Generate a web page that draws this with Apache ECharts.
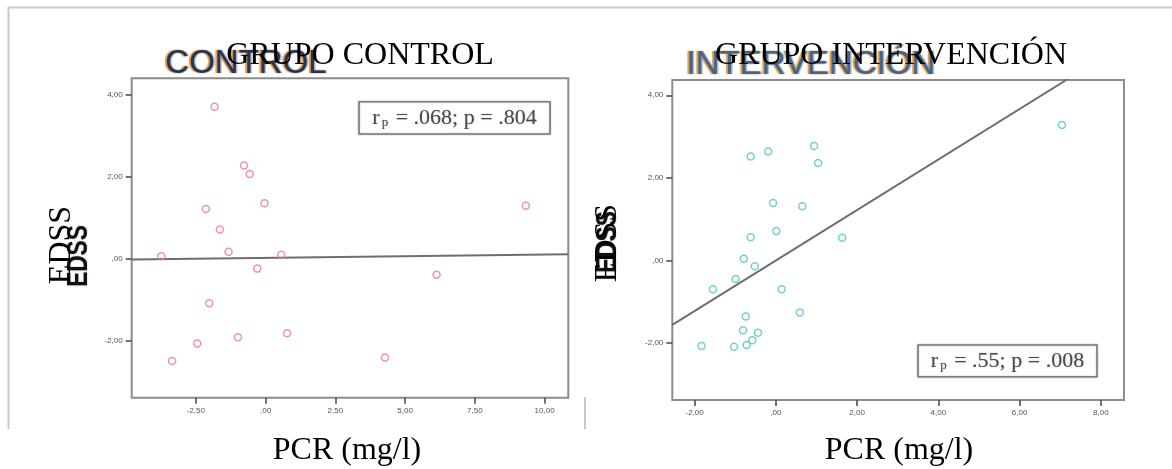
<!DOCTYPE html>
<html>
<head>
<meta charset="utf-8">
<script src="https://cdn.jsdelivr.net/npm/echarts@6/dist/echarts.min.js"></script>
<style>
html,body{margin:0;padding:0;background:#fff;}
#chart{width:1172px;height:469px;}
</style>
</head>
<body>
<div id="chart"></div>
<script>
// ---- data ----
const controlTitle = 'GRUPO CONTROL';
const interTitle = 'GRUPO INTERVENCIÓN';
const xAxisName = 'PCR (mg/l)';
const yAxisName = 'EDSS';

const ctrlX = [-1.83,-0.77,-0.57,-0.04,-2.14,-1.64,-1.33,-3.74,0.56,-0.30,-2.02,-0.99,0.77,-2.45,-3.35,4.28,6.13,9.33];
const ctrlY = [3.70,2.27,2.06,1.35,1.21,0.71,0.17,0.06,0.10,-0.24,-1.08,-1.91,-1.81,-2.06,-2.49,-2.40,-0.39,1.29];
const ctrlFitX = [-4.80, 10.85];
const ctrlFitY = [-0.02, 0.11];
const ctrlXTicks = [-2.5, 0, 2.5, 5, 7.5, 10];
const ctrlYTicks = [-2, 0, 2, 4];
const ctrlStat = ['r', 'p', ' = .068; p = .804'];

const intX = [7.04,0.94,-0.19,-0.62,1.04,-0.07,0.65,0.01,-0.62,1.63,-0.79,-0.52,-0.99,-1.55,0.14,0.59,-0.74,-0.81,-0.44,-0.58,-0.72,-1.03,-1.83];
const intY = [3.28,2.77,2.64,2.52,2.36,1.39,1.31,0.71,0.56,0.55,0.04,-0.14,-0.45,-0.70,-0.70,-1.26,-1.36,-1.69,-1.75,-1.93,-2.05,-2.09,-2.07];
const intFitX = [-2.55, 7.20];
const intFitY = [-1.56, 4.40];
const intXTicks = [-2, 0, 2, 4, 6, 8];
const intYTicks = [-2, 0, 2, 4];
const intStat = ['r', 'p', ' = .55; p = .008'];

// ---- helpers ----
function fmt(v){
  let s = Math.abs(v).toFixed(2).replace('.', ',');
  if (s.startsWith('0,')) s = s.slice(1);
  return (v < 0 ? '-' : '') + s;
}
function pairs(xs, ys){ return xs.map((x,i)=>[x, ys[i]]); }

const chart = echarts.init(document.getElementById('chart'), null, {renderer:'canvas'});

const gridBase = {show:true, borderColor:'#8c8c8c', borderWidth:2};
function ax(idx, min, max, ticks){
  return {type:'value', gridIndex:idx, min, max,
    splitLine:{show:false},
    axisLine:{show:true, onZero:false, lineStyle:{color:'#8c8c8c', width:1}},
    axisTick:{show:true, length:6, inside:false, lineStyle:{color:'#444', width:1.5}, customValues:ticks},
    axisLabel:{show:true, customValues:ticks, formatter:fmt, fontSize:8, color:'#555', margin:9, fontFamily:'Liberation Sans'}};
}

function scanTitle(text, cx, cy, col){
  return [
    {type:'text', x:cx-2, y:cy, z:5, style:{text, fill:'#e8962e', opacity:0.75, font:'33px "Liberation Sans"', align:'center', verticalAlign:'middle', textShadowColor:'rgba(232,150,46,0.6)', textShadowBlur:2}},
    {type:'text', x:cx+1.5, y:cy, z:5, style:{text, fill:'#8fb2de', opacity:0.7, font:'33px "Liberation Sans"', align:'center', verticalAlign:'middle'}},
    {type:'text', x:cx, y:cy, z:6, style:{text, fill:col, opacity:0.9, font:'33px "Liberation Sans"', align:'center', verticalAlign:'middle', textShadowColor:'rgba(0,0,0,0.35)', textShadowBlur:2}}
  ];
}
function serif(text, cx, cy, rot){
  return {type:'text', x:cx, y:cy, rotation:rot||0, z:20, style:{text, fill:'#000', font:'32px "Liberation Serif"', align:'center', verticalAlign:'middle'}};
}
function boldEdss(cx, cy){
  return {type:'text', x:cx, y:cy, rotation:Math.PI/2, scaleX:0.78, z:8, style:{text:yAxisName, fill:'#111', font:'bold 29px "Liberation Sans"', align:'center', verticalAlign:'middle', textShadowColor:'rgba(0,0,0,0.4)', textShadowBlur:1.5}};
}
function statBox(x, y, w, h, parts){
  return [
    {type:'rect', z:10, shape:{x, y, width:w, height:h}, style:{fill:'#fff', stroke:'#7a7a7a', lineWidth:1.6, shadowColor:'rgba(0,0,0,0.25)', shadowBlur:2}},
    {type:'text', z:11, x:x+w/2, y:y+h/2, style:{
      text:'{a|'+parts[0]+'}{s|'+parts[1]+'}{a|'+parts[2]+'}', align:'center', verticalAlign:'middle',
      rich:{a:{fontSize:22, fontFamily:'Liberation Serif', fill:'#4a4a4a', color:'#4a4a4a', verticalAlign:'middle'},
            s:{fontSize:13, fontFamily:'Liberation Serif', fill:'#4a4a4a', color:'#4a4a4a', verticalAlign:'bottom', padding:[10,2,0,2]}},
      textShadowColor:'rgba(0,0,0,0.3)', textShadowBlur:1.5}}
  ];
}

const option = {
  backgroundColor:'#fff',
  animation:false,
  grid:[
    Object.assign({left:131.7, top:78.3, width:436.6, height:319.4}, gridBase),
    Object.assign({left:672.3, top:80, width:451.7, height:320}, gridBase)
  ],
  xAxis:[ ax(0, -4.80, 10.85, ctrlXTicks), ax(1, -2.55, 8.57, intXTicks) ],
  yAxis:[ ax(0, -3.38, 4.39, ctrlYTicks), ax(1, -3.38, 4.37, intYTicks) ],
  series:[
    {type:'line', xAxisIndex:0, yAxisIndex:0, data:pairs(ctrlFitX, ctrlFitY), symbol:'none', clip:true,
      lineStyle:{color:'#6e6e6e', width:2}, z:3},
    {type:'scatter', xAxisIndex:0, yAxisIndex:0, data:pairs(ctrlX, ctrlY), symbol:'circle', symbolSize:7,
      itemStyle:{color:'rgba(255,255,255,0)', borderColor:'#e87a8a', borderWidth:1.5}, z:4},
    {type:'line', xAxisIndex:1, yAxisIndex:1, data:pairs(intFitX, intFitY), symbol:'none', clip:true,
      lineStyle:{color:'#6e6e6e', width:2}, z:3},
    {type:'scatter', xAxisIndex:1, yAxisIndex:1, data:pairs(intX, intY), symbol:'circle', symbolSize:7,
      itemStyle:{color:'rgba(255,255,255,0)', borderColor:'#55c2c4', borderWidth:1.5}, z:4}
  ],
  graphic:[
    // outer scan frame
    {type:'line', z:1, shape:{x1:8, y1:7.5, x2:1172, y2:7.5}, style:{stroke:'#c9c9c9', lineWidth:2}},
    {type:'line', z:1, shape:{x1:8.5, y1:7, x2:8.5, y2:429}, style:{stroke:'#c9c9c9', lineWidth:2}},
    {type:'line', z:1, shape:{x1:585, y1:397, x2:585, y2:429}, style:{stroke:'#c9c9c9', lineWidth:2}},
    // scanned original titles
    ...scanTitle('CONTROL', 246, 63.6, '#1d2a4a'),
    ...scanTitle('INTERVENCIÓN', 811, 64.6, '#3e5f88'),
    // overlay titles
    serif(controlTitle, 360, 55.5),
    serif(interTitle, 891, 55.5),
    // axis names
    boldEdss(79, 256),
    serif(yAxisName, 62, 245, Math.PI/2),
    boldEdss(608, 242),
    serif(yAxisName, 608, 243, Math.PI/2),
    serif(xAxisName, 347, 451),
    serif(xAxisName, 899, 451),
    // stat boxes
    ...statBox(359, 101.7, 191, 32.3, ctrlStat),
    ...statBox(918, 345, 179, 31.7, intStat)
  ]
};
chart.setOption(option);
</script>
</body>
</html>
